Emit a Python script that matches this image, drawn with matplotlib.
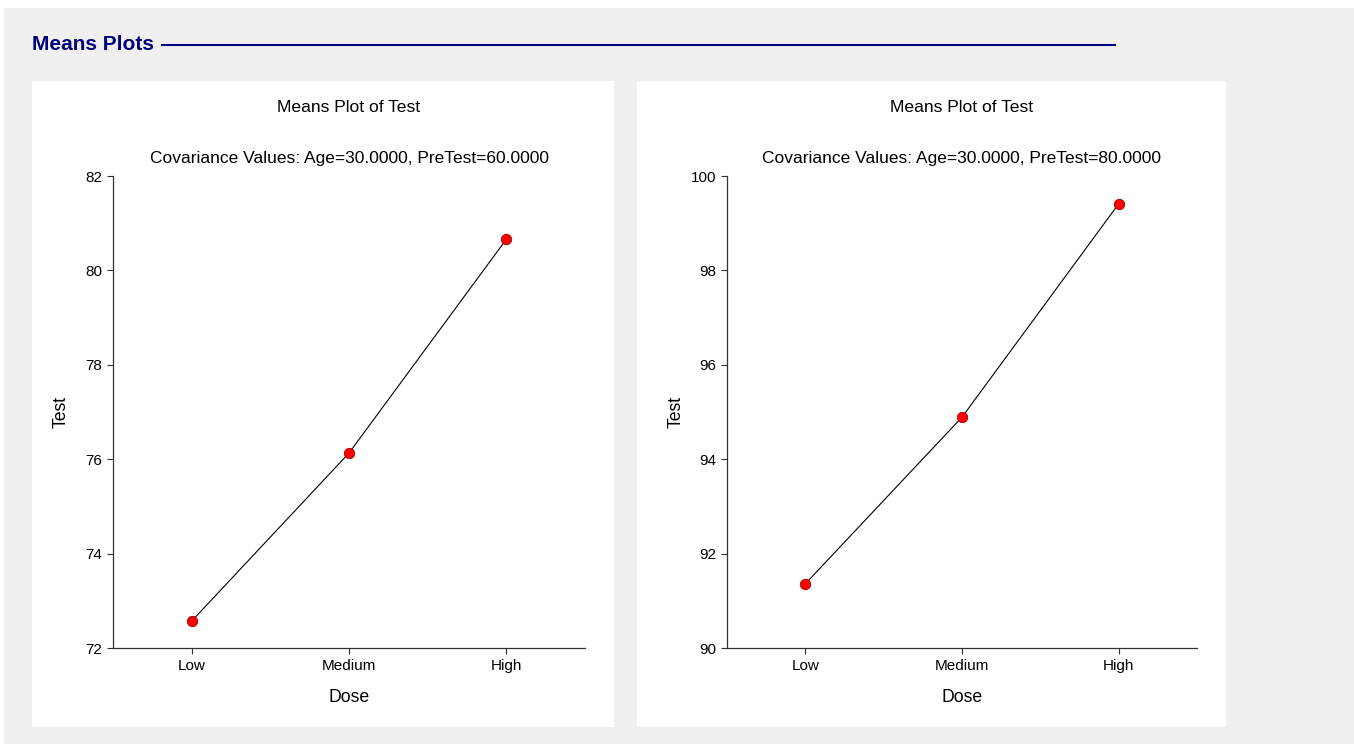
import matplotlib.pyplot as plt
from matplotlib.patches import Rectangle
from matplotlib.lines import Line2D

plt.rcParams['font.family'] = ['Liberation Sans', 'DejaVu Sans']

doses = ['Low', 'Medium', 'High']
test_pre60 = [72.57, 76.13, 80.66]
test_pre80 = [91.36, 94.89, 99.41]

panels = [
    {'means': test_pre60, 'cov': 'Covariance Values: Age=30.0000, PreTest=60.0000',
     'ylim': (72, 82), 'yticks': [72, 74, 76, 78, 80, 82]},
    {'means': test_pre80, 'cov': 'Covariance Values: Age=30.0000, PreTest=80.0000',
     'ylim': (90, 100), 'yticks': [90, 92, 94, 96, 98, 100]},
]

W, H = 1354, 744
fig = plt.figure(figsize=(W / 100, H / 100), dpi=100)
fig.patch.set_facecolor('white')


def box(x0, y0, x1, y1, color):
    # pixel coords, top-left origin
    fig.patches.append(Rectangle((x0 / W, 1 - y1 / H), (x1 - x0) / W, (y1 - y0) / H,
                                 transform=fig.transFigure, facecolor=color,
                                 edgecolor='none', zorder=-5))


box(4, 8, W, H, '#f0f0f0')
box(32, 81, 614, 727, 'white')
box(637, 81, 1226, 727, 'white')

fig.text(32 / W, 1 - 45 / H, 'Means Plots', color='#000080', fontsize=15,
         fontweight='bold', va='center', ha='left')
fig.add_artist(Line2D([162 / W, 1115 / W], [1 - 45 / H, 1 - 45 / H],
                      transform=fig.transFigure, color='#000080', lw=1.5))

axes_px = [(113, 585), (727, 1197)]
for (x0, x1), p in zip(axes_px, panels):
    ax = fig.add_axes([x0 / W, (H - 648) / H, (x1 - x0) / W, (648 - 176) / H])
    ax.set_zorder(2)
    ax.set_facecolor('none')
    ax.plot(range(len(doses)), p['means'], color='black', lw=0.8, zorder=2)
    ax.plot(range(len(doses)), p['means'], 'o', color='red', markeredgecolor='#a00000',
            markeredgewidth=0.6, markersize=7.5, zorder=3, clip_on=False)
    ax.set_xlim(-0.5, 2.5)
    ax.set_ylim(*p['ylim'])
    ax.set_yticks(p['yticks'])
    ax.set_xticks(range(len(doses)))
    ax.set_xticklabels(doses)
    for s in ['top', 'right']:
        ax.spines[s].set_visible(False)
    for s in ['left', 'bottom']:
        ax.spines[s].set_color('#333333')
        ax.spines[s].set_linewidth(0.9)
    ax.tick_params(direction='out', length=4, width=0.8, color='#333333',
                   labelsize=11, pad=4)
    ax.set_xlabel('Dose', fontsize=12.7)
    ax.set_ylabel('Test', fontsize=12.7)
    ax.xaxis.set_label_coords(0.5, -0.087)
    ax.yaxis.set_label_coords(-0.091, 0.5)
    ax.text(0.5, 1 + (176 - 108) / 472, 'Means Plot of Test', transform=ax.transAxes,
            ha='center', va='center', fontsize=12.6)
    ax.text(0.5, 1 + (176 - 158) / 472, p['cov'], transform=ax.transAxes,
            ha='center', va='center', fontsize=12.5)

fig.savefig('out.png', dpi=100)
